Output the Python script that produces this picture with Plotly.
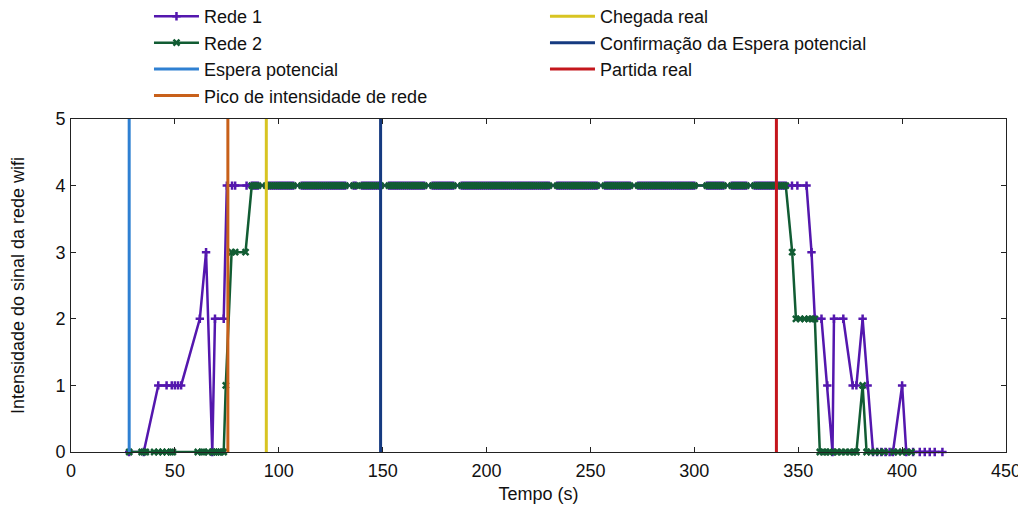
import plotly.graph_objects as go

# ---------------- data ----------------
plateau_level = 4
plateau_t = [
    87, 88, 89, 90, 94, 95, 96, 97, 98, 99, 100, 101, 102, 103, 104, 105, 106, 107,
    111, 112, 113, 114, 115, 116, 117, 118, 119, 120, 121, 122, 123, 124, 125, 126,
    127, 128, 129, 130, 131, 132, 136, 137, 140, 141, 142, 143, 144, 145, 146, 147,
    148, 149, 153, 154, 155, 156, 157, 158, 159, 160, 161, 162, 163, 164, 165, 166,
    167, 168, 169, 170, 174, 175, 176, 177, 178, 179, 180, 181, 182, 183, 184,
    188, 189, 190, 191, 192, 193, 194, 195, 196, 197, 198, 199, 200, 201, 202, 203,
    204, 205, 206, 207, 208, 209, 210, 211, 212, 213, 214, 215, 216, 217, 218, 219,
    220, 221, 222, 223, 224, 225, 226, 227, 228, 229, 230,
    234, 235, 236, 237, 238, 239, 240, 241, 242, 243, 244, 245, 246, 247, 248, 249,
    250, 251, 252, 253, 257, 258, 259, 260, 261, 262, 263, 264, 265, 266, 267, 268, 269,
    273, 274, 275, 276, 277, 278, 279, 280, 281, 282, 283, 284, 285, 286, 287, 288,
    289, 290, 291, 292, 293, 294, 295, 296, 297, 298, 299, 300,
    306, 307, 308, 309, 310, 311, 312, 313, 314, 318, 319, 320, 321, 322, 323, 324, 325,
    329, 330, 331, 332, 333, 334, 335, 336, 337, 338, 339, 340, 341, 342, 343, 344,
]

rede1_start_t = [28, 35, 42, 46, 48.5, 50, 51.5, 53, 62, 65, 68, 69.3, 73.5, 75, 77.5, 79, 84.5]
rede1_start_v = [0, 0, 1, 1, 1, 1, 1, 1, 2, 3, 0, 2, 2, 4, 4, 4, 4]
rede1_end_t = [347, 349.6, 354, 356.4, 358, 361.2, 364, 366.5, 367.2, 371.7, 376.2, 378,
               381, 383.4, 386, 388, 390, 392, 394, 395.6, 400, 402, 405.3, 408.5,
               410.9, 413.3, 415.7, 419.4]
rede1_end_v = [4, 4, 4, 3, 2, 2, 1, 0, 2, 2, 1, 1,
               2, 1, 0, 0, 0, 0, 0, 0, 1, 0, 0, 0,
               0, 0, 0, 0]

rede2_start_t = [28, 34, 35, 36, 40, 42, 44, 46, 48, 49, 61, 63, 64, 66, 68, 69, 70, 71,
                 72, 73.5, 74.5, 77.3, 79, 84]
rede2_start_v = [0, 0, 0, 0, 0, 0, 0, 0, 0, 0, 0, 0, 0, 0, 0, 0, 0, 0,
                 0, 0, 1, 3, 3, 3]
rede2_end_t = [347.1, 348.9, 351, 353, 355, 356.5, 358, 360.4, 362, 363.5, 365, 367,
               368.5, 371, 372.5, 375, 376.5, 378, 381, 382.9, 385, 387, 389, 391.5,
               396, 398, 400, 402, 404.5]
rede2_end_v = [3, 2, 2, 2, 2, 2, 2, 0, 0, 0, 0, 0,
               0, 0, 0, 0, 0, 0, 1, 0, 0, 0, 0, 0,
               0, 0, 0, 0, 0]

event_names = ["Espera potencial", "Pico de intensidade de rede", "Chegada real",
               "Confirmação da Espera potencial", "Partida real"]
event_t = [28, 75.5, 94, 149, 339.5]
event_colors = ["#2f80d2", "#c8601a", "#d8c422", "#153a80", "#c4161c"]
event_ranks = [5, 7, 2, 4, 6]

y_range = [0, 5]
x_range = [0, 450]

# ---------------- figure ----------------
plateau_v = [plateau_level for _ in plateau_t]
rede1_t = rede1_start_t + plateau_t + rede1_end_t
rede1_v = rede1_start_v + plateau_v + rede1_end_v
rede2_t = rede2_start_t + plateau_t + rede2_end_t
rede2_v = rede2_start_v + plateau_v + rede2_end_v

purple = "#5417ae"
green = "#115c33"
font = "Liberation Sans, Arial, sans-serif"

fig = go.Figure()
fig.add_trace(go.Scatter(
    x=rede1_t, y=rede1_v, mode="lines+markers", name="Rede 1", legendrank=1,
    line=dict(color=purple, width=2.5),
    marker=dict(symbol="cross-thin", size=6, color=purple,
                line=dict(color=purple, width=2.5)),
    cliponaxis=False,
))
fig.add_trace(go.Scatter(
    x=rede2_t, y=rede2_v, mode="lines+markers", name="Rede 2", legendrank=3,
    line=dict(color=green, width=2.5),
    marker=dict(symbol="x-thin", size=6, color=green,
                line=dict(color=green, width=2.5)),
    cliponaxis=False,
))
for name, t, c, r in zip(event_names, event_t, event_colors, event_ranks):
    fig.add_trace(go.Scatter(
        x=[t, t], y=y_range, mode="lines", name=name, legendrank=r,
        line=dict(color=c, width=3),
    ))

axis_common = dict(
    showgrid=False, zeroline=False, showline=True, linecolor="#222", linewidth=1,
    mirror="allticks", ticks="inside", ticklen=5, tickcolor="#222", automargin=False,
    tickfont=dict(size=18, color="#111", family=font),
    title_font=dict(size=18, color="#111", family=font),
)

fig.update_layout(
    width=1018, height=502,
    margin=dict(l=63, r=20, t=111, b=58, autoexpand=False),
    paper_bgcolor="white", plot_bgcolor="white",
    font=dict(family=font, size=18, color="#111"),
    showlegend=True,
    legend=dict(
        orientation="h", x=0.0834, xanchor="left", y=1.363, yanchor="top",
        entrywidth=336, entrywidthmode="pixels", traceorder="normal",
        itemwidth=45,
        font=dict(size=18, family=font, color="#111"),
        bgcolor="rgba(0,0,0,0)", tracegroupgap=0,
    ),
    xaxis=dict(range=x_range, dtick=50, ticklabelstandoff=2,
               title=dict(text="Tempo (s)", standoff=7), **axis_common),
    yaxis=dict(range=y_range, dtick=1, ticklabelstandoff=1,
               title=dict(text="Intensidade do sinal da rede wifi", standoff=30),
               **axis_common),
)

fig.write_html("out.html")
